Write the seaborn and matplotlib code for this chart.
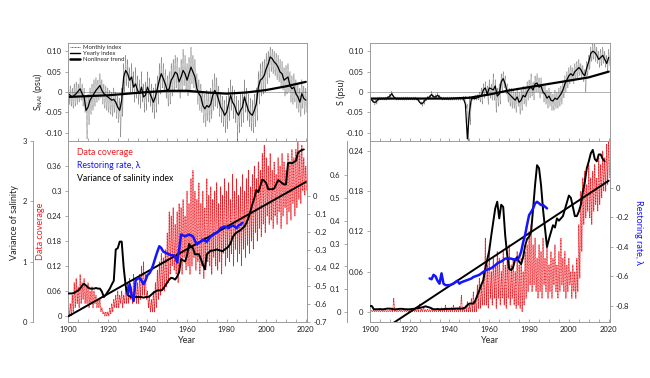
import numpy as np
import pandas as pd
import matplotlib
matplotlib.use("Agg")
import matplotlib.pyplot as plt
from matplotlib.lines import Line2D
import seaborn as sns

# ---- data ---------------------------------------------------------------
years = np.arange(1900, 2021)

# top-left: S_NAI, yearly index
nai_yearly = [
    -0.004, -0.008, -0.012, -0.008, -0.004, 0.002, 0.008, -0.004, -0.012, -0.045,
    -0.037, -0.020, -0.012, -0.004, 0.004, 0.010, 0.016, 0.004, -0.004, -0.008,
    -0.012, -0.016, -0.020, -0.018, -0.025, -0.037, -0.045, -0.020, 0.037, 0.053,
    0.045, 0.029, 0.037, 0.012, 0.020, 0.004, -0.004, 0.012, -0.012, -0.008,
    0.012, 0.000, -0.012, -0.025, -0.012, 0.008, 0.029, 0.045, 0.033, 0.020,
    0.004, 0.008, 0.029, 0.037, 0.049, 0.045, 0.025, 0.037, 0.053, 0.045,
    0.029, 0.045, 0.061, 0.049, 0.037, 0.008, -0.004, -0.012, -0.033, -0.041,
    -0.033, -0.037, -0.029, -0.008, 0.004, -0.004, -0.020, -0.037, -0.045, -0.057,
    -0.049, -0.029, -0.008, -0.025, -0.033, -0.049, -0.057, -0.045, -0.037, -0.012,
    -0.029, -0.045, -0.053, -0.057, -0.045, -0.029, 0.012, 0.029, 0.033, 0.041,
    0.057, 0.069, 0.086, 0.082, 0.074, 0.069, 0.061, 0.049, 0.045, 0.029,
    0.033, 0.037, 0.016, 0.008, 0.012, -0.004, -0.012, -0.025, -0.004, -0.016,
    -0.020]
# monthly index envelope (high / low reading per year)
nai_month_hi = [
    0.02, 0.015, 0.01, 0.02, 0.025, 0.02, 0.035, 0.02, 0.01, -0.01,
    -0.005, 0.01, 0.02, 0.03, 0.035, 0.03, 0.045, 0.03, 0.02, 0.015,
    0.01, 0.005, 0.0, 0.01, 0.0, -0.01, -0.015, 0.01, 0.07, 0.09,
    0.08, 0.06, 0.07, 0.05, 0.06, 0.04, 0.03, 0.05, 0.02, 0.025,
    0.05, 0.035, 0.02, 0.01, 0.02, 0.04, 0.07, 0.085, 0.07, 0.055,
    0.04, 0.05, 0.07, 0.08, 0.09, 0.085, 0.06, 0.08, 0.105, 0.09,
    0.07, 0.085, 0.11, 0.09, 0.08, 0.045, 0.03, 0.02, 0.0, -0.005,
    0.005, 0.0, 0.01, 0.03, 0.045, 0.035, 0.015, 0.0, -0.01, -0.02,
    -0.01, 0.01, 0.03, 0.015, 0.005, -0.01, -0.02, -0.005, 0.0, 0.03,
    0.01, -0.005, -0.015, -0.02, -0.005, 0.01, 0.05, 0.07, 0.075, 0.08,
    0.095, 0.10, 0.11, 0.105, 0.10, 0.095, 0.09, 0.08, 0.075, 0.06,
    0.065, 0.07, 0.05, 0.04, 0.045, 0.03, 0.02, 0.01, 0.03, 0.015,
    0.01]
nai_month_lo = [
    -0.03, -0.035, -0.04, -0.035, -0.03, -0.025, -0.02, -0.035, -0.05, -0.115,
    -0.08, -0.055, -0.045, -0.035, -0.025, -0.02, -0.015, -0.03, -0.04, -0.045,
    -0.05, -0.055, -0.06, -0.05, -0.065, -0.075, -0.11, -0.06, 0.0, 0.015,
    0.01, -0.005, 0.0, -0.025, -0.015, -0.03, -0.04, -0.025, -0.05, -0.045,
    -0.025, -0.035, -0.05, -0.065, -0.05, -0.03, -0.005, 0.01, 0.0, -0.015,
    -0.035, -0.03, -0.01, 0.0, 0.01, 0.005, -0.015, 0.0, 0.015, 0.005,
    -0.01, 0.005, 0.02, 0.01, 0.0, -0.03, -0.045, -0.05, -0.075, -0.085,
    -0.07, -0.075, -0.065, -0.045, -0.035, -0.04, -0.06, -0.075, -0.085, -0.10,
    -0.09, -0.07, -0.045, -0.065, -0.075, -0.12, -0.10, -0.085, -0.075, -0.05,
    -0.07, -0.085, -0.095, -0.10, -0.085, -0.07, -0.03, -0.01, -0.005, 0.0,
    0.02, 0.035, 0.05, 0.045, 0.04, 0.03, 0.025, 0.01, 0.005, -0.01,
    -0.005, 0.0, -0.025, -0.03, -0.025, -0.04, -0.05, -0.06, -0.04, -0.055,
    -0.05]
nai_trend_years = [1900, 1910, 1920, 1930, 1940, 1950, 1960, 1970, 1980, 1990, 2000, 2010, 2020]
nai_trend = [-0.012, -0.010, -0.008, -0.004, 0.0, 0.003, 0.003, -0.001, -0.004, -0.001, 0.005, 0.014, 0.025]

# top-right: S, yearly index
s_yearly = [
    -0.016, -0.020, -0.025, -0.025, -0.018, -0.016, -0.016, -0.016, -0.016, -0.014,
    -0.010, -0.004, -0.012, -0.016, -0.016, -0.016, -0.016, -0.016, -0.016, -0.016,
    -0.016, -0.016, -0.016, -0.016, -0.018, -0.025, -0.029, -0.025, -0.018, -0.014,
    -0.012, -0.006, -0.012, -0.012, -0.008, -0.012, -0.016, -0.016, -0.016, -0.016,
    -0.016, -0.016, -0.016, -0.016, -0.016, -0.016, -0.016, -0.016, -0.030, -0.115,
    -0.050, -0.016, -0.016, -0.016, -0.014, -0.012, -0.010, 0.005, 0.010, -0.005,
    0.010, 0.008, 0.005, 0.015, -0.010, -0.005, 0.025, 0.033, 0.020, 0.000,
    -0.005, -0.010, -0.015, -0.020, -0.012, -0.025, -0.020, -0.008, -0.012, 0.000,
    0.008, 0.012, 0.005, 0.020, 0.022, 0.012, 0.015, 0.000, -0.005, -0.015,
    -0.010, -0.020, -0.022, -0.015, -0.018, -0.012, -0.005, 0.005, 0.020, 0.030,
    0.040, 0.045, 0.040, 0.050, 0.055, 0.060, 0.055, 0.045, 0.040, 0.060,
    0.075, 0.095, 0.100, 0.097, 0.090, 0.080, 0.085, 0.090, 0.080, 0.070,
    0.085]
s_month_hi = [
    -0.012, -0.015, -0.02, -0.018, -0.013, -0.012, -0.012, -0.012, -0.012, -0.01,
    -0.005, 0.002, -0.008, -0.012, -0.012, -0.012, -0.012, -0.012, -0.012, -0.012,
    -0.012, -0.012, -0.012, -0.012, -0.014, -0.02, -0.024, -0.02, -0.014, -0.01,
    -0.008, 0.002, -0.007, -0.006, -0.002, -0.007, -0.012, -0.012, -0.012, -0.012,
    -0.012, -0.012, -0.012, -0.012, -0.012, -0.012, -0.012, -0.01, -0.01, -0.03,
    -0.01, -0.012, -0.01, -0.008, -0.006, 0.0, 0.01, 0.02, 0.025, 0.015,
    0.03, 0.02, 0.045, 0.03, 0.01, 0.02, 0.045, 0.05, 0.04, 0.02,
    0.01, 0.01, 0.005, 0.0, 0.01, 0.0, 0.005, 0.015, 0.01, 0.025,
    0.03, 0.045, 0.025, 0.04, 0.045, 0.035, 0.035, 0.02, 0.015, 0.005,
    0.01, 0.0, -0.005, 0.005, 0.0, 0.01, 0.015, 0.025, 0.04, 0.05,
    0.06, 0.065, 0.06, 0.07, 0.075, 0.08, 0.07, 0.065, 0.055, 0.075,
    0.09, 0.11, 0.12, 0.12, 0.11, 0.10, 0.105, 0.11, 0.10, 0.09,
    0.105]
s_month_lo = [
    -0.02, -0.025, -0.032, -0.03, -0.022, -0.02, -0.02, -0.02, -0.02, -0.018,
    -0.015, -0.01, -0.016, -0.02, -0.02, -0.02, -0.02, -0.02, -0.02, -0.02,
    -0.02, -0.02, -0.02, -0.02, -0.022, -0.03, -0.035, -0.03, -0.022, -0.018,
    -0.016, -0.012, -0.016, -0.016, -0.014, -0.016, -0.02, -0.02, -0.02, -0.02,
    -0.02, -0.02, -0.02, -0.02, -0.02, -0.02, -0.02, -0.02, -0.04, -0.125,
    -0.08, -0.02, -0.02, -0.02, -0.02, -0.025, -0.03, -0.015, -0.01, -0.03,
    -0.015, -0.02, -0.02, -0.05, -0.035, -0.03, 0.0, 0.01, -0.005, -0.025,
    -0.035, -0.04, -0.04, -0.05, -0.035, -0.055, -0.045, -0.03, -0.035, -0.02,
    -0.015, -0.01, -0.02, 0.0, 0.0, -0.015, -0.005, -0.025, -0.03, -0.04,
    -0.035, -0.045, -0.045, -0.04, -0.04, -0.035, -0.03, -0.015, 0.0, 0.01,
    0.02, 0.025, 0.02, 0.03, 0.035, 0.04, 0.035, 0.025, 0.0, 0.04,
    0.055, 0.075, 0.08, 0.075, 0.07, 0.06, 0.065, 0.07, 0.06, 0.05,
    0.065]
s_trend_years = [1900, 1910, 1920, 1930, 1940, 1950, 1960, 1970, 1980, 1990, 2000, 2010, 2020]
s_trend = [-0.016, -0.016, -0.016, -0.016, -0.016, -0.014, -0.006, 0.004, 0.012, 0.020, 0.028, 0.036, 0.050]

# bottom-left: data coverage (hi / low per year), variance, restoring rate
cov_l_hi = [
    0.02, 0.03, 0.05, 0.08, 0.09, 0.07, 0.10, 0.08, 0.09, 0.07,
    0.08, 0.06, 0.07, 0.06, 0.05, 0.04, 0.04, 0.02, 0.01, 0.01,
    0.01, 0.02, 0.03, 0.04, 0.05, 0.06, 0.05, 0.06, 0.05, 0.07,
    0.08, 0.09, 0.07, 0.10, 0.09, 0.08, 0.10, 0.12, 0.13, 0.10,
    0.06, 0.05, 0.04, 0.06, 0.08, 0.11, 0.13, 0.15, 0.14, 0.16,
    0.20, 0.25, 0.24, 0.26, 0.22, 0.25, 0.27, 0.26, 0.28, 0.24,
    0.30, 0.27, 0.33, 0.35, 0.30, 0.28, 0.32, 0.27, 0.30, 0.26,
    0.33, 0.29, 0.31, 0.28, 0.30, 0.32, 0.27, 0.31, 0.29, 0.33,
    0.30, 0.32, 0.28, 0.34, 0.30, 0.33, 0.29, 0.31, 0.34, 0.30,
    0.33, 0.35, 0.31, 0.34, 0.36, 0.33, 0.37, 0.35, 0.39, 0.41,
    0.38, 0.36, 0.39, 0.35, 0.37, 0.34, 0.38, 0.36, 0.39, 0.37,
    0.35, 0.39, 0.37, 0.40, 0.38, 0.40, 0.42, 0.39, 0.41, 0.38,
    0.36]
cov_l_lo = [
    0.0, 0.0, 0.01, 0.02, 0.03, 0.02, 0.03, 0.04, 0.03, 0.03,
    0.02, 0.03, 0.02, 0.03, 0.02, 0.02, 0.01, 0.005, 0.0, 0.0,
    0.0, 0.005, 0.01, 0.02, 0.02, 0.02, 0.03, 0.02, 0.03, 0.03,
    0.03, 0.04, 0.03, 0.04, 0.03, 0.03, 0.04, 0.05, 0.05, 0.04,
    0.02, 0.01, 0.01, 0.01, 0.02, 0.04, 0.05, 0.06, 0.06, 0.07,
    0.08, 0.10, 0.12, 0.11, 0.10, 0.08, 0.12, 0.10, 0.14, 0.11,
    0.12, 0.10, 0.12, 0.14, 0.11, 0.13, 0.10, 0.12, 0.09, 0.11,
    0.13, 0.12, 0.10, 0.14, 0.12, 0.11, 0.13, 0.10, 0.15, 0.12,
    0.14, 0.13, 0.15, 0.12, 0.16, 0.13, 0.15, 0.12, 0.16, 0.14,
    0.17, 0.15, 0.18, 0.16, 0.20, 0.18, 0.21, 0.19, 0.22, 0.20,
    0.24, 0.22, 0.23, 0.21, 0.24, 0.22, 0.25, 0.21, 0.24, 0.26,
    0.22, 0.25, 0.23, 0.27, 0.24, 0.26, 0.28, 0.27, 0.30, 0.29,
    0.30]
var_l = [
    0.47, 0.47, 0.47, 0.48, 0.50, 0.52, 0.55, 0.60, 0.63, 0.60,
    0.57, 0.55, 0.55, 0.55, 0.56, 0.55, 0.55, 0.50, 0.41, 0.45,
    0.50, 0.55, 0.62, 0.68, 1.20, 1.22, 1.33, 1.33, 0.90, 0.60,
    0.45, 0.42, 0.41, 0.41, 0.41, 0.41, 0.41, 0.41, 0.40, 0.41,
    0.41, 0.42, 0.45, 0.48, 0.50, 0.52, 0.52, 0.52, 0.55, 0.60,
    0.65, 0.70, 0.73, 0.72, 0.70, 0.75, 0.82, 1.04, 1.02, 1.00,
    1.10, 1.29, 1.25, 1.22, 1.12, 1.12, 1.12, 1.04, 0.95, 0.87,
    1.12, 1.15, 1.18, 1.18, 1.19, 1.20, 1.19, 1.18, 1.17, 1.20,
    1.22, 1.25, 1.30, 1.40, 1.45, 1.48, 1.50, 1.52, 1.55, 1.58,
    1.64, 1.72, 1.83, 1.95, 2.05, 2.19, 2.15, 2.25, 2.36, 2.34,
    2.30, 2.20, 2.20, 2.20, 2.21, 2.28, 2.35, 2.33, 2.30, 2.28,
    2.28, 2.63, 2.64, 2.63, 2.65, 2.67, 2.80, 2.83, 2.85, 2.86]
var_l_trend_years = [1900, 2020]
var_l_trend = [0.09, 2.32]
lam_l = [
    -0.547, -0.49, -0.55, -0.584, -0.47, -0.46, -0.455, -0.47, -0.49, -0.47,
    -0.44, -0.43, -0.41, -0.38, -0.344, -0.31, -0.28, -0.29, -0.31, -0.315,
    -0.32, -0.325, -0.33, -0.33, -0.335, -0.37, -0.30, -0.215, -0.22, -0.225,
    -0.22, -0.215, -0.22, -0.225, -0.25, -0.27, -0.26, -0.255, -0.243, -0.25,
    -0.255, -0.24, -0.225, -0.22, -0.21, -0.206, -0.195, -0.18, -0.175, -0.17,
    -0.175, -0.18, -0.17, -0.165, -0.17, -0.18, -0.165, -0.16, -0.15]

# bottom-right
cov_r_hi = [
    0.003, 0.002, 0.003, 0.002, 0.004, 0.002, 0.003, 0.002, 0.003, 0.002,
    0.003, 0.004, 0.020, 0.003, 0.002, 0.003, 0.002, 0.004, 0.002, 0.003,
    0.002, 0.003, 0.004, 0.003, 0.005, 0.012, 0.004, 0.008, 0.003, 0.004,
    0.003, 0.005, 0.004, 0.003, 0.005, 0.004, 0.006, 0.005, 0.010, 0.004,
    0.005, 0.006, 0.010, 0.005, 0.006, 0.008, 0.025, 0.007, 0.009, 0.015,
    0.01, 0.02, 0.03, 0.02, 0.04, 0.05, 0.04, 0.06, 0.11, 0.07,
    0.10, 0.06, 0.08, 0.07, 0.09, 0.08, 0.06, 0.09, 0.07, 0.08,
    0.10, 0.07, 0.08, 0.06, 0.09, 0.07, 0.08, 0.06, 0.09, 0.10,
    0.12, 0.13, 0.10, 0.11, 0.08, 0.10, 0.09, 0.11, 0.08, 0.10,
    0.07, 0.09, 0.08, 0.10, 0.07, 0.09, 0.11, 0.08, 0.09, 0.07,
    0.08, 0.06, 0.07, 0.06, 0.08, 0.13, 0.18, 0.20, 0.21, 0.19,
    0.22, 0.20, 0.21, 0.22, 0.20, 0.23, 0.22, 0.24, 0.23, 0.25,
    0.26]
cov_r_lo = [
    0.0, 0.0, 0.0, 0.0, 0.0, 0.0, 0.0, 0.0, 0.0, 0.0,
    0.0, 0.0, 0.0, 0.0, 0.0, 0.0, 0.0, 0.0, 0.0, 0.0,
    0.0, 0.0, 0.0, 0.0, 0.0, 0.0, 0.0, 0.0, 0.0, 0.0,
    0.0, 0.0, 0.0, 0.0, 0.0, 0.0, 0.0, 0.0, 0.0, 0.0,
    0.0, 0.0, 0.0, 0.0, 0.0, 0.0, 0.0, 0.0, 0.0, 0.0,
    0.0, 0.0, 0.0, 0.0, 0.005, 0.005, 0.01, 0.01, 0.01, 0.005,
    0.02, 0.01, 0.02, 0.005, 0.02, 0.01, 0.02, 0.01, 0.005, 0.02,
    0.01, 0.02, 0.01, 0.005, 0.01, 0.005, 0.0, 0.01, 0.02, 0.03,
    0.04, 0.03, 0.04, 0.03, 0.02, 0.03, 0.02, 0.04, 0.03, 0.02,
    0.03, 0.02, 0.04, 0.03, 0.02, 0.03, 0.04, 0.03, 0.02, 0.03,
    0.04, 0.02, 0.03, 0.02, 0.03, 0.05, 0.09, 0.13, 0.14, 0.15,
    0.14, 0.13, 0.15, 0.16, 0.15, 0.16, 0.17, 0.18, 0.18, 0.19,
    0.20]
var_r = [
    0.026, 0.026, 0.012, 0.012, 0.012, 0.013, 0.012, 0.012, 0.014, 0.015,
    0.015, 0.014, 0.012, 0.012, 0.013, 0.014, 0.014, 0.013, 0.012, 0.012,
    0.012, 0.013, 0.014, 0.015, 0.017, 0.018, 0.020, 0.022, 0.025, 0.022,
    0.020, 0.016, 0.012, 0.012, 0.013, 0.012, 0.012, 0.013, 0.013, 0.014,
    0.014, 0.014, 0.014, 0.015, 0.015, 0.015, 0.015, 0.016, 0.020, 0.030,
    0.037, 0.037, 0.037, 0.050, 0.073, 0.095, 0.120, 0.139, 0.190, 0.230,
    0.270, 0.335, 0.395, 0.454, 0.483, 0.410, 0.470, 0.460, 0.336, 0.250,
    0.190, 0.183, 0.197, 0.230, 0.240, 0.220, 0.210, 0.240, 0.290, 0.320,
    0.330, 0.350, 0.450, 0.556, 0.643, 0.630, 0.556, 0.450, 0.366, 0.285,
    0.320, 0.350, 0.380, 0.370, 0.410, 0.400, 0.410, 0.420, 0.450, 0.480,
    0.510, 0.500, 0.460, 0.420, 0.420, 0.440, 0.470, 0.526, 0.570, 0.630,
    0.660, 0.695, 0.710, 0.670, 0.660, 0.690, 0.690, 0.670, 0.660]
var_r_trend_years = [1900, 2020]
var_r_trend = [-0.116, 0.575]
lam_r = [
    -0.614, -0.62, -0.59, -0.60, -0.63, -0.65, -0.58, -0.65, -0.66, -0.66,
    -0.66, -0.655, -0.65, -0.64, -0.63, -0.65, -0.64, -0.635, -0.63, -0.625,
    -0.62, -0.615, -0.605, -0.60, -0.595, -0.59, -0.58, -0.57, -0.56, -0.555,
    -0.55, -0.545, -0.535, -0.525, -0.513, -0.505, -0.50, -0.49, -0.48, -0.48,
    -0.48, -0.48, -0.485, -0.485, -0.49, -0.47, -0.434, -0.37, -0.32, -0.25,
    -0.185, -0.165, -0.14, -0.106, -0.095, -0.106, -0.117, -0.117, -0.128, -0.14]

RED = "#ee1c24"
BLUE = "#1414ff"
GREY = "#9b9b9b"

sns.set_theme(style="ticks")
plt.rcParams["font.family"] = ["Lato", "DejaVu Sans"]
plt.rcParams["axes.unicode_minus"] = False
plt.rcParams["axes.edgecolor"] = GREY
plt.rcParams["axes.linewidth"] = 0.7


def line(ax, x, y, **kw):
    sns.lineplot(x=np.asarray(x, float), y=np.asarray(y, float), ax=ax,
                 estimator=None, sort=False, legend=False, **kw)


def zigzag(hi, lo):
    x = np.column_stack([years, years + 0.5]).ravel()
    y = np.column_stack([hi, lo]).ravel()
    return x, y


def style_y(ax):
    ax.tick_params(axis="y", labelsize=5.5, length=2.5, width=0.6, pad=2,
                   color=GREY, labelcolor="#222222")


def fmt(t):
    return "0" if t == 0 else f"{t:g}"


def top_panel(ax, hi, lo, yearly, ty, tv, ylabel):
    ax.axhline(0, color="#b0b0b0", lw=0.7, zorder=0)
    mx, my = zigzag(hi, lo)
    line(ax, mx, my, color="#555555", lw=0.35, linestyle=(0, (1.2, 0.6)))
    line(ax, years, yearly, color="black", lw=0.9)
    line(ax, ty, tv, color="black", lw=1.6)
    ax.set_xlim(1900, 2020.5)
    ax.set_ylim(-0.12, 0.12)
    ax.set_yticks([-0.10, -0.05, 0, 0.05, 0.10], ["-0.10", "-0.05", "0", "0.05", "0.10"])
    ax.set_xticks(np.arange(1900, 2021, 5))
    ax.set_xticklabels([])
    ax.tick_params(axis="x", direction="in", length=2.5, width=0.6, color=GREY)
    style_y(ax)
    ax.set_xlabel("")
    ax.set_ylabel(ylabel, fontsize=6.5, va="center")


def bottom_panel(rect, cov_hi, cov_lo, var, vt_y, vt, lam,
                 cov_lim, cov_ticks, var_lim, var_ticks, var_x,
                 lam_lim, lam_ticks):
    # data coverage: the framed axes
    ax = fig.add_axes(rect)
    cx, cy = zigzag(cov_hi, cov_lo)
    line(ax, cx, cy, color=RED, lw=0.55, linestyle=(0, (1.5, 0.5)))
    ax.set_xlim(1900, 2020.5)
    ax.set_ylim(*cov_lim)
    ax.set_yticks(cov_ticks, [fmt(t) for t in cov_ticks])
    ax.set_xticks(np.arange(1900, 2021, 20))
    ax.set_xticks(np.arange(1900, 2021, 5), minor=True)
    ax.tick_params(axis="x", which="both", direction="in", length=2.5, width=0.6,
                   color=GREY, labelsize=5.5, labelcolor="#222222", pad=3)
    style_y(ax)
    ax.set_xlabel("Year", fontsize=6.5)
    ax.xaxis.set_label_coords(0.5, -0.075)
    ax.set_ylabel("")

    # variance of salinity: lines drawn over the frame, axis shown further left
    ax_v = fig.add_axes(rect)
    ax_v.patch.set_visible(False)
    line(ax_v, np.arange(1900, 1900 + len(var)), var, color="black", lw=1.4)
    line(ax_v, vt_y, vt, color="black", lw=1.4)
    ax_v.set_xlim(1900, 2020.5)
    ax_v.set_ylim(*var_lim)
    ax_v.axis("off")
    ax_vs = fig.add_axes([var_x, rect[1], 0.0001, rect[3]])
    ax_vs.patch.set_visible(False)
    for s in ["top", "right", "bottom"]:
        ax_vs.spines[s].set_visible(False)
    ax_vs.set_xticks([])
    ax_vs.set_ylim(*var_lim)
    ax_vs.set_yticks(var_ticks, [fmt(t) for t in var_ticks])
    style_y(ax_vs)

    # restoring rate on the right
    ax_r = fig.add_axes(rect)
    ax_r.patch.set_visible(False)
    line(ax_r, np.arange(1930, 1930 + len(lam)), lam, color=BLUE, lw=1.8)
    ax_r.set_xlim(1900, 2020.5)
    ax_r.set_ylim(*lam_lim)
    for s in ["top", "left", "bottom"]:
        ax_r.spines[s].set_visible(False)
    ax_r.set_xticks([])
    ax_r.yaxis.tick_right()
    ax_r.set_yticks(lam_ticks, [fmt(t) for t in lam_ticks])
    style_y(ax_r)
    ax_r.set_xlabel("")
    ax_r.set_ylabel("")
    return ax, ax_vs, ax_r


fig = plt.figure(figsize=(6.5, 3.78), dpi=100)
ax_tl = fig.add_axes([0.105, 0.627, 0.367, 0.259])
ax_tr = fig.add_axes([0.569, 0.627, 0.369, 0.259])

top_panel(ax_tl, nai_month_hi, nai_month_lo, nai_yearly, nai_trend_years, nai_trend,
          r"S$_{\rm NAI}$ (psu)")
ax_tl.yaxis.set_label_coords(-0.125, 0.5)
leg_handles = [Line2D([], [], color="#555555", lw=0.6, linestyle=(0, (1.2, 0.6))),
               Line2D([], [], color="black", lw=1.0),
               Line2D([], [], color="black", lw=1.8)]
ax_tl.legend(leg_handles, ["Monthly index", "Yearly index", "Nonlinear trend"],
             loc="upper left", fontsize=4.3, frameon=False, handlelength=1.6,
             handletextpad=0.6, labelspacing=0.15, borderaxespad=0.2,
             borderpad=0.1)

top_panel(ax_tr, s_month_hi, s_month_lo, s_yearly, s_trend_years, s_trend, "S (psu)")
ax_tr.yaxis.set_label_coords(-0.12, 0.5)

ax_bl, vs_l, r_l = bottom_panel(
    [0.105, 0.148, 0.367, 0.479], cov_l_hi, cov_l_lo, var_l,
    var_l_trend_years, var_l_trend, lam_l,
    (-0.0144, 0.42), [0, 0.06, 0.12, 0.18, 0.24, 0.30, 0.36],
    (-0.005, 3.0), [0, 1, 2, 3], 33 / 650,
    (-0.70, 0.303), [0, -0.1, -0.2, -0.3, -0.4, -0.5, -0.6, -0.7])
ax_bl.set_ylabel("Data coverage", fontsize=6.5, color=RED, va="center")
ax_bl.yaxis.set_label_coords(-0.117, 0.5)
for txt, col, yy in [("Data coverage", RED, 0.934),
                     ("Restoring rate, \u03bb", BLUE, 0.862),
                     ("Variance of salinity index", "black", 0.793)]:
    ax_bl.text(0.037, yy, txt, color=col, fontsize=6.3, transform=ax_bl.transAxes,
               va="center", ha="left")

ax_br, vs_r, r_r = bottom_panel(
    [0.569, 0.148, 0.369, 0.479], cov_r_hi, cov_r_lo, var_r,
    var_r_trend_years, var_r_trend, lam_r,
    (-0.0154, 0.255), [0, 0.06, 0.12, 0.18, 0.24],
    (-0.044, 0.749), [0, 0.1, 0.2, 0.3, 0.4, 0.5, 0.6], 347 / 650,
    (-0.91, 0.317), [0, -0.2, -0.4, -0.6, -0.8])

# axis titles placed in figure coordinates
fig.text(15 / 650, 1 - 223 / 378, "Variance of salinity", fontsize=6.5, rotation=90,
         ha="center", va="center", color="#222222")
fig.text(639 / 650, 1 - 232 / 378, "Restoring rate, \u03bb", fontsize=6.5, rotation=270,
         ha="center", va="center", color=BLUE)

fig.savefig("out.png", dpi=100)
